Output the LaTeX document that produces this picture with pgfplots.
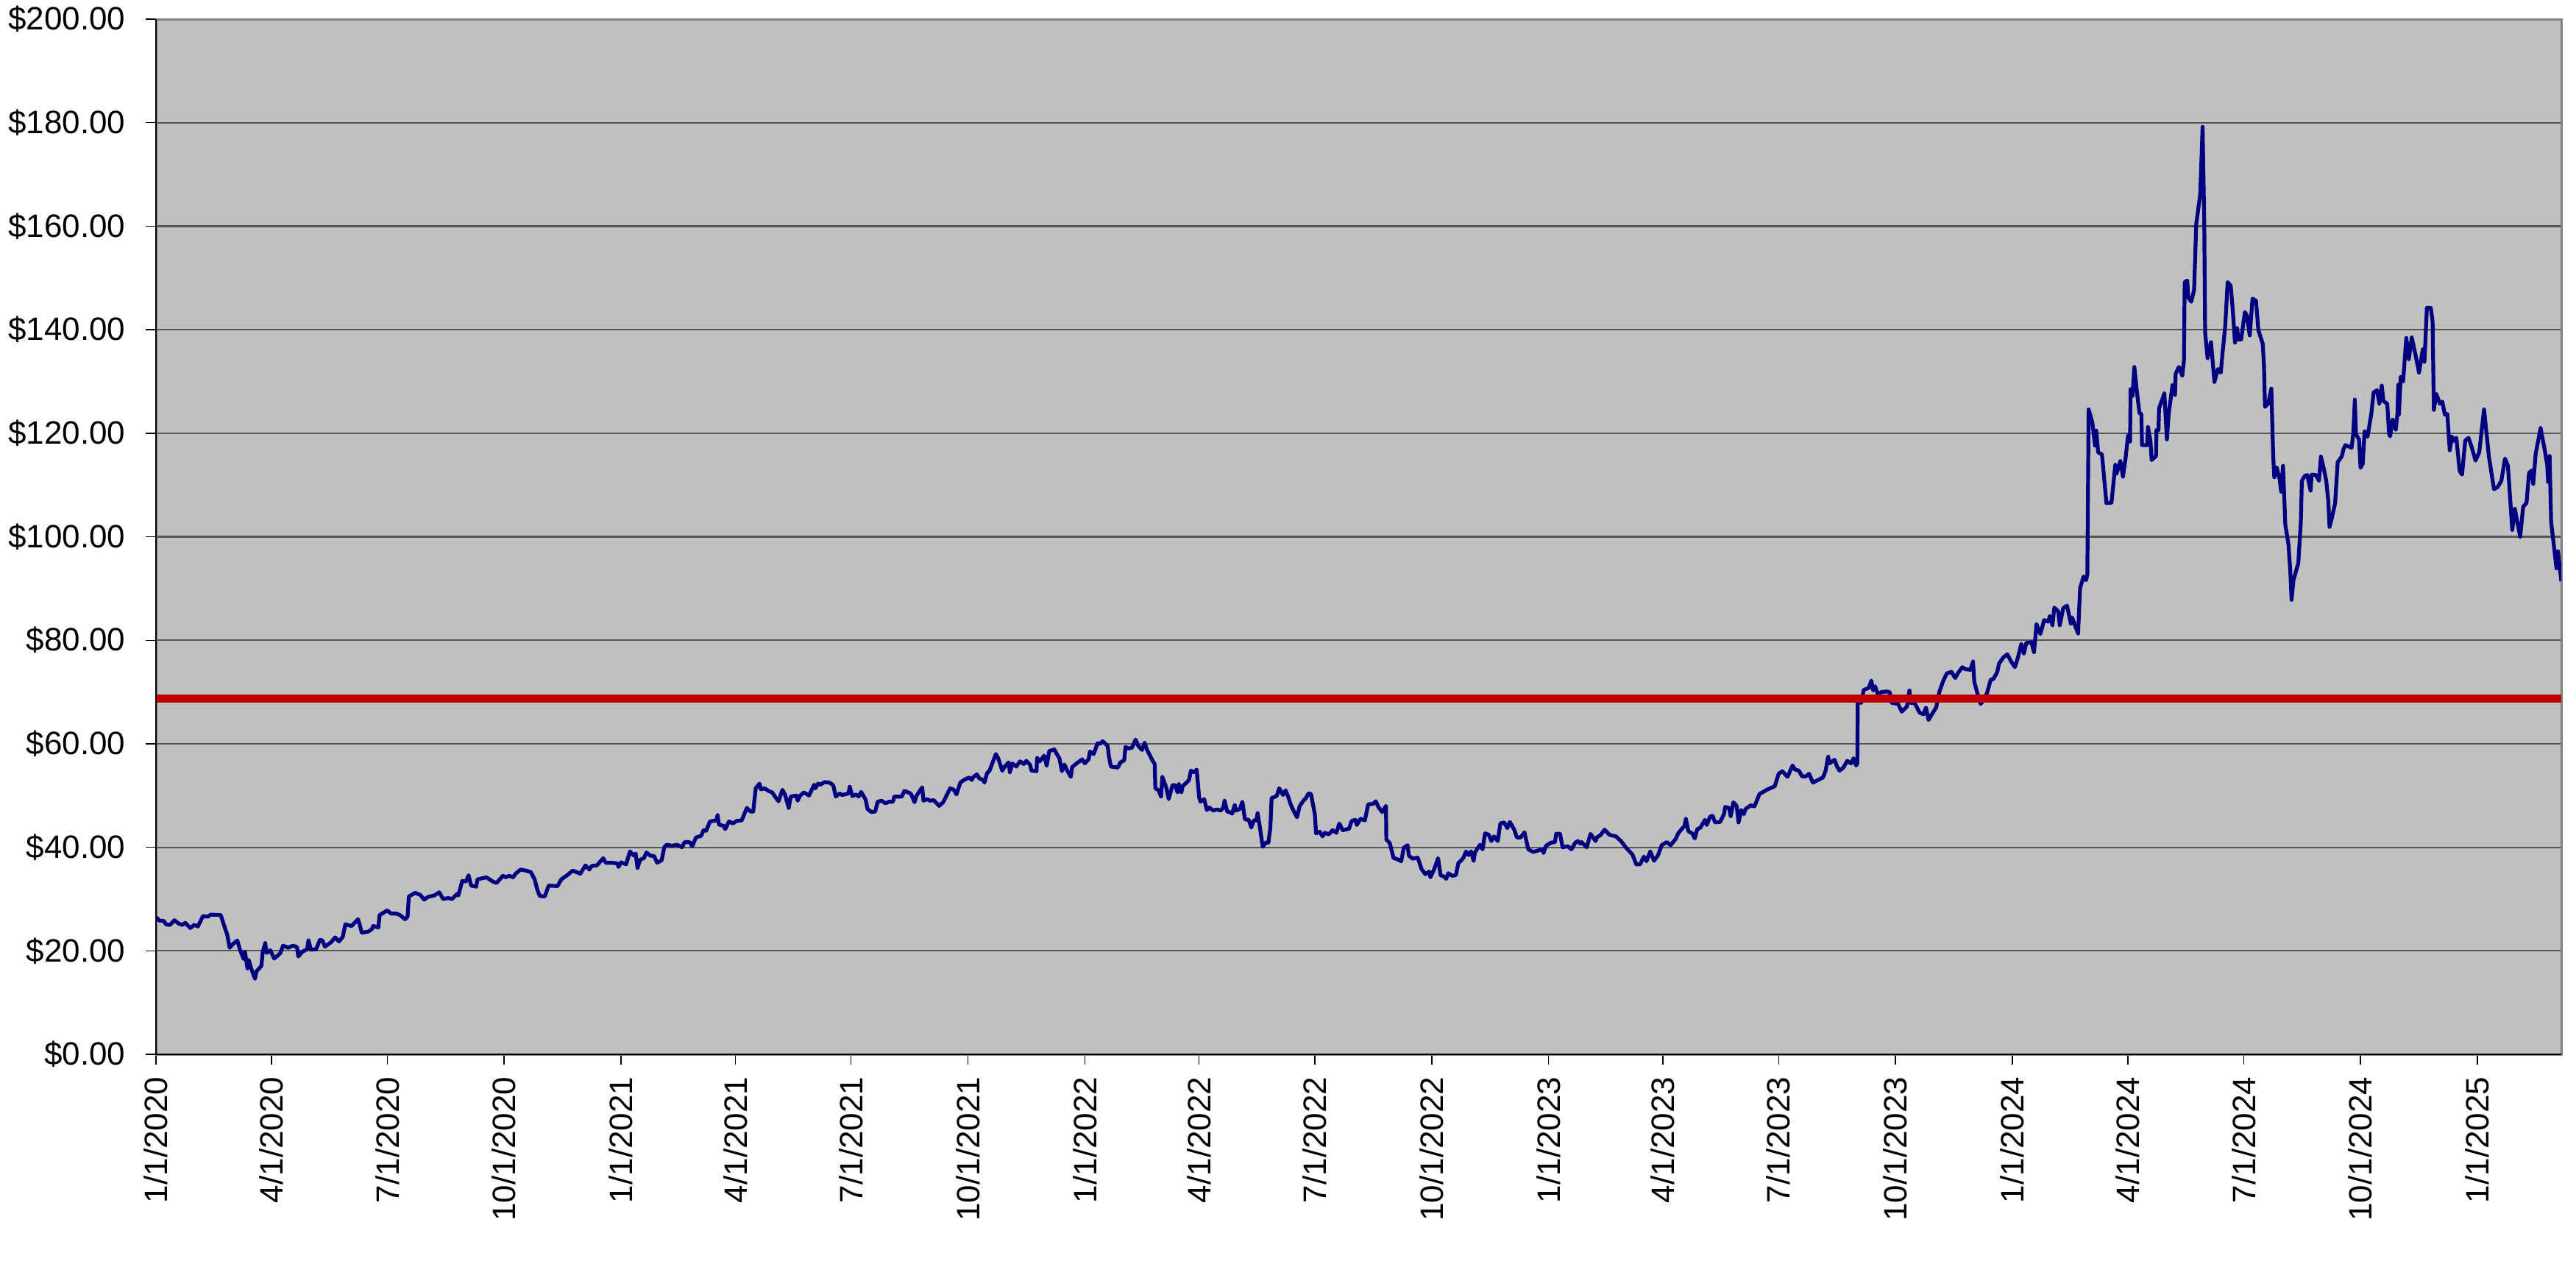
\documentclass[border=0pt]{standalone}
\usepackage{pgfplots}
\usepackage{pgfplotstable}
\pgfplotsset{compat=1.18}
\usepackage{fontspec}
\setmainfont{Liberation Sans}
\definecolor{plotbg}{RGB}{192,192,192}
\definecolor{gridc}{RGB}{85,85,85}
\definecolor{borderc}{RGB}{128,128,128}
\definecolor{navyc}{RGB}{0,0,128}
\definecolor{redc}{RGB}{192,0,0}
\pgfplotstableread{
day price
0 26.5
3 25.8
6 25.8
8 25.1
11 25.0
14.5 25.9
17.6 25.3
20.7 25.0
23 25.4
27 24.4
30 25.0
33 24.7
37 26.7
41 26.6
43 27.0
51 26.9
54 24.6
56 23.2
58 20.6
61 21.4
64 22.0
66 20.3
69 18.4
70 19.8
72 16.6
73 18.2
76 15.8
78 14.6
79 16.0
83 17.1
84 19.8
86 21.5
87 19.6
90 20.1
93 18.5
95 18.9
98 19.6
100 21.0
104 20.6
108 21.0
111 20.7
112 18.9
115 19.8
119 20.3
120 22.0
122 20.2
126 20.3
129 22.1
131 22.0
133 20.8
138 21.7
141 22.6
144 21.8
147 22.7
149 25.1
154 24.8
159 26.1
160 25.3
162 23.5
167 23.7
170 24.2
171 24.8
175 24.5
176 26.9
182 27.8
185 27.2
189 27.2
192 26.9
196 26.1
198 26.6
199 30.5
204 31.2
208 30.8
211 29.9
214 30.4
219 30.7
223 31.3
226 30.0
230 30.2
233 30.0
237 31.0
238 30.7
241 33.5
244 33.4
246 34.6
248 32.6
252 32.4
253 33.8
260 34.2
265 33.4
268 33.1
273 34.5
275 34.2
278 34.5
281 34.2
283 34.9
287 35.7
291 35.5
295 35.2
298 33.8
300 31.9
302 30.6
306 30.5
309 32.6
316 32.5
319 33.8
323.6 34.6
328 35.5
331 35.2
334 34.9
338 36.5
341 35.7
343 36.4
347 36.5
352 37.9
354 37.0
359 37.0
363 36.9
364 36.2
366 37.1
370 36.7
373 39.2
376 38.4
377.5 38.8
379 36.0
381 37.6
384 37.9
386 39.0
389 38.4
392 38.3
394.4 37.0
398 37.5
400 40.0
402 40.5
406 40.3
410 40.5
414 40.0
416 41.0
420 41.0
422 40.2
425 41.9
429 42.2
431 43.3
433 43.2
436 45.0
441 45.2
442 46.2
443 44.4
447 44.1
448 43.5
451 45.0
454 44.6
457 45.1
461 45.2
465 47.6
468 46.9
470 46.9
472 51.4
475 52.3
476 51.2
479 51.4
482 50.9
485 50.6
488 49.5
490 48.9
493 51.1
495 50.2
498 47.6
499.5 49.8
504 50.0
505 49.0
507 50.0
510 50.6
514 50.0
518 52.1
519 51.4
521 52.3
523 52.1
526 52.6
530 52.5
533 52.0
535 49.8
538 50.4
540 50.1
545 50.4
546 51.7
548 49.9
551 50.2
553 49.8
555 50.7
558.5 49.2
560 47.4
563 46.8
566 46.9
568 48.8
571 49.0
574 48.5
577 48.8
580 48.8
581 49.8
587 49.8
589 50.9
594 50.4
597 48.7
598.4 49.9
603 51.6
604 49.0
607 49.3
609 49.0
612 49.1
616.4 48.0
619.5 48.7
622 49.9
625 51.4
628 51.1
630 50.2
633 52.5
636.5 53.1
640 53.5
642 53.0
643 53.5
646 54.1
648 53.3
651 53.0
652 52.5
654 54.3
656 54.8
658 56.1
661 58.0
663 57.1
666 54.8
668 55.6
671 56.4
672 54.5
674 56.2
677 55.6
680 56.6
683 56.1
685 56.7
688 55.9
689 54.8
693 54.7
693.4 57.3
695.5 56.6
699 57.7
701 55.8
703 58.6
707 58.9
709 58.0
711 57.2
713 54.7
715 56.0
717 54.9
720 53.6
721 55.5
724 56.1
729 57.0
731 56.2
734 57.0
735 58.5
738 58.0
741 60.1
743 60.0
745 60.5
749 59.6
750 57.5
751.5 55.6
757 55.4
759 56.4
762 56.8
763 59.4
765 59.1
768 59.2
771 60.8
773 59.6
776 58.8
778 60.2
780 58.8
784.4 56.7
786 56.1
786.5 51.4
789 51.0
791 49.8
792 53.6
795 51.6
797 49.3
800 52.0
802 52.0
804 50.6
805 52.2
807 50.6
808 51.8
811 52.5
813 53.0
814.5 54.8
817 54.5
819 55.0
821 49.6
822 48.8
825 49.3
827 47.2
829 47.7
832 47.1
835 47.3
838 47.1
840 47.7
841 49.0
843 46.9
845 46.8
847 46.5
849 48.2
850 47.1
853 47.4
855 48.8
857 45.4
860 45.3
862 43.8
864 45.2
866 45.2
867 46.6
869 43.5
871 40.1
873.4 40.9
875.5 40.9
877 43.8
878 49.5
881 49.8
882 49.9
884 51.4
887 50.1
889 51.0
891 49.8
893 48.3
895 47.2
898 45.8
900 47.9
903 49.0
905 49.5
907 50.4
909 50.3
912 46.4
913 42.7
916 43.0
918 42.1
920 42.8
923 42.5
926 43.3
929 42.8
931.3 44.6
934 43.3
939 43.6
941 45.1
944 45.3
945 44.3
948 45.5
951.4 45.2
954 48.3
958 48.4
960 48.9
962 47.8
965 46.8
968 48.0
968.3 41.5
971 40.8
974 37.9
976 37.8
980 37.3
982 39.9
985 40.4
986 38.4
989 37.8
993 38.0
996 35.8
999 34.8
1002 35.3
1003 34.2
1006 35.8
1009 37.9
1011 34.6
1014 34.3
1015.4 33.9
1017 35.0
1020 34.5
1023 34.6
1025 37.0
1027 37.4
1029 38.0
1031 39.2
1033 38.5
1035 39.2
1037 37.4
1038 39.0
1042 40.5
1044 39.6
1046 42.7
1049 42.4
1051 41.2
1053 42.1
1056 41.2
1058 44.6
1061 44.8
1063.5 43.7
1065.5 44.9
1069 43.4
1071 41.9
1074 41.9
1077 42.9
1080 39.6
1084 39.1
1088 39.4
1091 39.6
1092 38.9
1094 40.3
1098 40.9
1101 41.0
1102 42.6
1105 42.6
1107 40.0
1111 40.2
1114 39.6
1117 40.9
1119 41.2
1121 40.7
1122 41.0
1126 40.0
1129 42.6
1133 41.2
1134 41.9
1137 42.4
1140 43.4
1144 42.4
1149 42.1
1153 41.2
1157 39.9
1160 39.1
1162 38.6
1165 36.7
1168 36.7
1171 38.2
1173 37.3
1176 39.2
1179 37.4
1182 38.4
1185 40.4
1189 41.0
1192 40.4
1196 41.6
1198 42.7
1201 43.6
1203 44.1
1204 45.5
1206 43.1
1209 42.7
1211 41.7
1213 43.5
1215.5 43.8
1219 45.3
1220.5 44.3
1223 45.9
1225 46.1
1227 44.8
1231 44.9
1234 46.4
1235 47.8
1238 47.6
1239.3 46.0
1241.4 48.7
1244 48.0
1245.5 44.8
1247.6 47.2
1249.6 46.4
1251 47.4
1255 48.1
1258 47.9
1262 50.3
1268.5 51.2
1274 51.8
1277 54.2
1280 54.7
1284 53.6
1288 55.8
1290 55.0
1293 54.8
1295.5 53.7
1298.4 53.7
1301 54.2
1304 52.5
1308 53.0
1312 53.5
1314 54.8
1316 57.5
1317 56.2
1321 56.9
1323 55.6
1325 54.8
1328 55.4
1331 56.7
1334 56.2
1336 57.2
1338 55.8
1339 56.2
1339.3 68.2
1342 67.9
1344 70.4
1348 70.8
1350 72.2
1351.5 70.3
1353 71.1
1355 69.6
1358 70.0
1362 70.1
1364.4 70.0
1366 67.9
1371 67.7
1374 66.2
1378 67.2
1380 70.3
1381 67.9
1384 67.9
1388 66.0
1391 65.7
1393 67.0
1395 64.6
1398.4 66.0
1401 67.0
1403.6 70.1
1406.5 72.1
1409.4 73.6
1413 73.9
1416 72.7
1418 73.6
1421.6 74.8
1424 74.4
1428 74.3
1430 75.9
1431 72.0
1433.5 69.7
1436 67.7
1438.4 68.4
1441 69.8
1444 72.4
1446 72.5
1449 73.8
1450.5 75.5
1454 76.7
1457 77.3
1460 75.9
1463 74.8
1465.4 76.7
1468 79.3
1470 77.4
1472 79.5
1476 79.6
1478 77.7
1480 83.1
1483 81.2
1486 83.9
1489 83.6
1490.5 84.7
1492.5 82.9
1494 86.3
1497 85.6
1498.3 82.9
1501 86.2
1504 86.7
1507 83.2
1508 84.4
1510.4 82.8
1512.7 81.3
1514.3 90.1
1517 92.3
1519 91.6
1520 92.8
1521 124.6
1524 122.0
1526 117.6
1527 120.5
1528.5 116.3
1531.5 115.9
1535 106.5
1539 106.6
1542 113.9
1543 112.2
1546 114.6
1548 111.6
1550 115.0
1552 119.5
1553.6 118.4
1554 128.5
1555.5 127.2
1557 132.8
1559 128.0
1561 123.9
1562.5 123.7
1563 117.7
1567 117.7
1567.7 121.2
1569.6 118.6
1570.6 114.8
1574 115.6
1574.4 120.6
1576 120.6
1576.4 124.8
1580.6 127.7
1582.6 118.8
1584 123.7
1587 129.3
1589 127.4
1589.5 131.5
1592 132.8
1594.7 131.1
1596 134.1
1596.6 149.2
1598.6 149.5
1599.5 146.2
1601.8 145.4
1604 147.7
1605.7 160.4
1608.8 166.1
1610.7 179.2
1612 160.6
1612.7 139.4
1614.6 134.5
1616 136.2
1617.3 137.6
1620 129.9
1622.7 132.4
1625 131.7
1626.2 135.0
1628.5 140.7
1630.4 149.2
1632.8 148.5
1634.3 144.2
1636.2 137.5
1637.8 140.3
1639 138.1
1641 138.1
1644 143.4
1645.5 142.8
1647.8 138.9
1650 146.0
1652.7 145.6
1654.6 139.9
1658 137.3
1659 133.1
1659.8 125.1
1662.3 125.7
1664.8 128.6
1666.2 116.0
1667.1 111.5
1669 113.4
1671.4 111.0
1672.5 108.7
1674 113.7
1675.8 102.3
1678.3 98.5
1679.7 93.3
1680.7 87.8
1682.2 91.6
1686 94.9
1688 102.8
1688.8 110.8
1691.3 111.8
1693.2 111.9
1694.2 110.6
1695.7 108.9
1696.5 112.0
1700 111.9
1702.3 110.8
1703.8 115.5
1706 113.2
1708 110.8
1709.6 107.0
1710.6 101.9
1712.5 103.7
1715 106.5
1717 114.4
1720.2 115.5
1721.6 116.9
1723 117.7
1725 117.5
1728 117.2
1729.3 120.0
1730.5 126.5
1731.4 119.8
1733.8 118.8
1735 113.3
1736.7 114.1
1738.2 120.4
1740.5 119.3
1742.4 122.2
1743.4 123.6
1745.3 127.9
1748 128.3
1749.8 125.7
1751.7 129.2
1753 126.2
1756 125.7
1757.5 119.8
1758.3 119.4
1760.2 122.6
1762.7 120.7
1764 123.6
1764.7 129.4
1765.2 123.6
1766.6 130.9
1768.5 130.0
1771 138.4
1773 134.3
1775.3 138.5
1778.7 134.6
1781 131.7
1784 136.2
1785.3 133.8
1787.2 144.2
1790.3 144.2
1791.7 141.6
1792.7 124.5
1794.6 127.6
1797.5 125.7
1799.4 126.1
1801.3 123.6
1803.3 123.7
1805.2 116.7
1807 119.3
1808 118.5
1810.4 119.1
1813 112.7
1814.9 112.0
1817.4 118.6
1820 119.1
1822.6 117.2
1825.5 114.7
1828.4 116.3
1832.2 124.6
1836 115.5
1840 109.2
1842.9 109.6
1845.8 110.8
1848.7 115.1
1851 113.7
1854.4 101.3
1856.4 105.4
1860.6 100.0
1863 105.8
1865.6 106.5
1867.6 112.3
1869.5 112.8
1870.9 110.2
1872.8 116.0
1876.7 121.0
1880 116.7
1881.9 113.9
1882.6 110.6
1883.8 115.6
1885 102.8
1887.3 98.0
1889.2 93.9
1890.4 97.2
1893 91.4
}\pricetable
\begin{document}
\begin{tikzpicture}
\begin{axis}[
  at={(0,0)}, anchor=south west,
  scale only axis,
  width=817.25pt, height=351.75pt,
  xmin=0, xmax=1893, ymin=0, ymax=200,
  axis background/.style={fill=plotbg},
  axis line style={draw=borderc, line width=0.75pt},
  ytick={0,20,...,200},
  yticklabels={\$0.00,\$20.00,\$40.00,\$60.00,\$80.00,\$100.00,\$120.00,\$140.00,\$160.00,\$180.00,\$200.00},
  xtick={0,91,182,274,366,456,547,639,731,821,912,1004,1096,1186,1277,1369,1461,1552,1643,1735,1827},
  xticklabels={1/1/2020,4/1/2020,7/1/2020,10/1/2020,1/1/2021,4/1/2021,7/1/2021,10/1/2021,1/1/2022,4/1/2022,7/1/2022,10/1/2022,1/1/2023,4/1/2023,7/1/2023,10/1/2023,1/1/2024,4/1/2024,7/1/2024,10/1/2024,1/1/2025},
  xtick pos=bottom, ytick pos=left,
  tick align=outside,
  major tick length=3.5pt,
  tick style={black, line width=0.35pt},
  ymajorgrids,
  grid style={gridc, line width=0.55pt},
  tick label style={font=\fontsize{11}{13}\selectfont, inner sep=0pt},
  yticklabel style={anchor=east},
  xticklabel style={rotate=90, anchor=east},
  yticklabel shift=6.75pt,
  xticklabel shift=4pt,
  /pgf/number format/assume math mode=true,
  clip=true,
  after end axis/.code={
    \draw[black, line width=0.35pt] (rel axis cs:0,1) -- (rel axis cs:0,0) -- (rel axis cs:1,0);
  },
]
\addplot[navyc, line width=1.3pt, line join=round, no markers] table[x=day, y=price] {\pricetable};
\addplot[redc, line width=2.7pt, no markers] coordinates {(0,68.7) (1893,68.7)};
\end{axis}
\pgfresetboundingbox
\path[use as bounding box] (-53pt,-71pt) rectangle (822.25pt,358.25pt);
\end{tikzpicture}
\end{document}
